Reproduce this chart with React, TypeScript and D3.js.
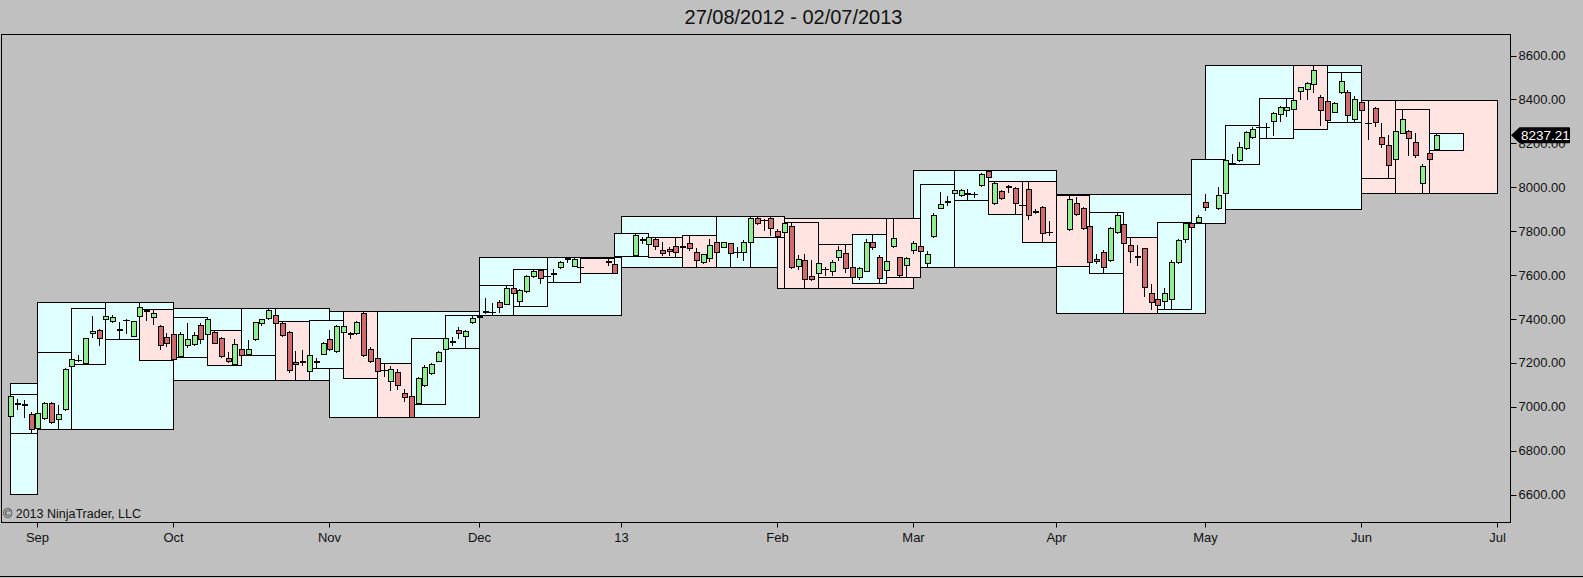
import React, { useEffect } from "react";
import * as d3 from "d3";

// day, open, high, low, close
type Row = [number, number, number, number, number];

const aug2012: Row[] = [
  [27, 6958, 7057, 6952, 7051], [28, 7016, 7034, 6988, 7014], [29, 7012, 7032, 6955, 7010],
  [30, 6967, 6978, 6879, 6898], [31, 6902, 6978, 6898, 6973],
];
const sep2012: Row[] = [
  [3, 6948, 7022, 6945, 7016], [4, 7016, 7021, 6928, 6933], [5, 6943, 7008, 6898, 6966],
  [6, 6989, 7175, 6985, 7172], [7, 7186, 7251, 7183, 7216], [10, 7213, 7236, 7210, 7212],
  [11, 7198, 7315, 7195, 7312], [12, 7335, 7414, 7320, 7347], [13, 7350, 7353, 7282, 7312],
  [14, 7398, 7449, 7395, 7413], [17, 7392, 7418, 7388, 7410], [18, 7354, 7388, 7307, 7352],
  [19, 7396, 7398, 7335, 7394], [20, 7324, 7392, 7323, 7391], [21, 7414, 7479, 7411, 7453],
  [24, 7440, 7444, 7395, 7438], [25, 7408, 7444, 7377, 7426], [26, 7368, 7373, 7262, 7282],
  [27, 7320, 7335, 7277, 7292], [28, 7332, 7335, 7213, 7216],
];
const oct2012: Row[] = [
  [1, 7231, 7342, 7225, 7332], [2, 7282, 7380, 7274, 7307], [3, 7286, 7342, 7282, 7327],
  [4, 7373, 7380, 7289, 7307], [5, 7332, 7411, 7327, 7398], [8, 7342, 7350, 7289, 7292],
  [9, 7312, 7320, 7228, 7231], [10, 7224, 7251, 7206, 7209], [11, 7195, 7307, 7190, 7285],
  [12, 7262, 7304, 7231, 7236], [15, 7241, 7304, 7236, 7262], [16, 7307, 7388, 7304, 7385],
  [17, 7380, 7401, 7375, 7400], [18, 7403, 7449, 7398, 7441], [19, 7418, 7429, 7377, 7380],
  [22, 7380, 7391, 7323, 7327], [23, 7342, 7347, 7160, 7168], [24, 7206, 7255, 7122, 7196],
  [25, 7208, 7259, 7190, 7206], [26, 7163, 7236, 7160, 7236], [29, 7207, 7221, 7175, 7205],
  [30, 7241, 7297, 7240, 7289], [31, 7307, 7350, 7259, 7262],
];
const nov2012: Row[] = [
  [1, 7256, 7373, 7251, 7368], [2, 7340, 7396, 7322, 7366], [5, 7336, 7342, 7315, 7334],
  [6, 7335, 7392, 7330, 7385], [7, 7429, 7436, 7233, 7236], [8, 7262, 7274, 7206, 7209],
  [9, 7221, 7228, 7130, 7165], [12, 7168, 7200, 7140, 7166], [13, 7119, 7186, 7077, 7172],
  [14, 7160, 7172, 7080, 7100], [15, 7065, 7080, 7028, 7046], [16, 7049, 7049, 6952, 6953],
  [19, 7016, 7134, 7013, 7130], [20, 7100, 7191, 7095, 7180], [21, 7153, 7201, 7150, 7195],
  [22, 7210, 7254, 7207, 7251], [23, 7262, 7312, 7228, 7312], [26, 7298, 7320, 7282, 7296],
  [27, 7350, 7362, 7312, 7335], [28, 7323, 7350, 7266, 7347], [29, 7385, 7414, 7383, 7403],
  [30, 7412, 7418, 7402, 7410],
];
const dec2012: Row[] = [
  [3, 7435, 7494, 7426, 7432], [4, 7434, 7471, 7418, 7432], [5, 7479, 7487, 7433, 7456],
  [6, 7468, 7555, 7467, 7540], [7, 7540, 7550, 7471, 7520], [10, 7484, 7535, 7459, 7532],
  [11, 7529, 7600, 7525, 7596], [12, 7596, 7623, 7593, 7619], [13, 7623, 7626, 7566, 7585],
  [14, 7596, 7608, 7570, 7594], [17, 7608, 7626, 7570, 7606], [18, 7638, 7664, 7631, 7658],
  [19, 7677, 7684, 7661, 7675], [20, 7643, 7676, 7641, 7673], [21, 7639, 7645, 7634, 7637],
  [27, 7662, 7672, 7646, 7660], [28, 7651, 7676, 7608, 7611],
];
const jan2013: Row[] = [
  [2, 7692, 7790, 7689, 7783], [3, 7763, 7775, 7745, 7762], [4, 7742, 7778, 7737, 7775],
  [7, 7763, 7767, 7717, 7733], [8, 7714, 7752, 7692, 7699], [9, 7718, 7730, 7692, 7708],
  [10, 7733, 7775, 7684, 7707], [11, 7732, 7767, 7707, 7728], [14, 7745, 7783, 7714, 7722],
  [15, 7707, 7722, 7638, 7669], [16, 7661, 7696, 7654, 7694], [17, 7676, 7763, 7666, 7737],
  [18, 7752, 7772, 7638, 7704], [21, 7729, 7752, 7727, 7750], [22, 7745, 7748, 7638, 7699],
  [23, 7707, 7730, 7684, 7705], [24, 7707, 7760, 7669, 7752], [25, 7752, 7869, 7745, 7859],
  [28, 7858, 7869, 7833, 7836], [29, 7852, 7856, 7806, 7850], [30, 7858, 7863, 7783, 7813],
  [31, 7802, 7808, 7775, 7778],
];
const feb2013: Row[] = [
  [1, 7795, 7851, 7790, 7836], [4, 7823, 7843, 7631, 7638], [5, 7641, 7692, 7626, 7672],
  [6, 7669, 7695, 7543, 7581], [7, 7596, 7669, 7578, 7581], [8, 7608, 7691, 7600, 7654],
  [11, 7630, 7638, 7600, 7628], [12, 7620, 7669, 7600, 7661], [13, 7684, 7732, 7669, 7714],
  [14, 7699, 7740, 7616, 7631], [15, 7635, 7638, 7590, 7593], [18, 7593, 7638, 7581, 7631],
  [19, 7619, 7763, 7619, 7752], [20, 7752, 7787, 7717, 7729], [21, 7684, 7692, 7562, 7585],
  [22, 7623, 7669, 7616, 7664], [25, 7733, 7858, 7729, 7770], [26, 7684, 7684, 7593, 7601],
  [27, 7646, 7684, 7593, 7679], [28, 7714, 7755, 7699, 7748],
];
const mar2013: Row[] = [
  [1, 7734, 7737, 7702, 7710], [4, 7657, 7711, 7638, 7696], [5, 7778, 7884, 7775, 7874],
  [6, 7907, 7977, 7904, 7924], [7, 7937, 7960, 7919, 7935], [8, 7972, 8013, 7969, 7987],
  [11, 7965, 7992, 7960, 7987], [12, 7972, 7990, 7940, 7970], [13, 7970, 7980, 7957, 7968],
  [14, 8010, 8063, 8006, 8060], [15, 8074, 8079, 8041, 8045], [18, 7930, 8030, 7924, 8021],
  [19, 7983, 7987, 7946, 7950], [20, 8004, 8010, 7980, 8002], [21, 7995, 8000, 7880, 7930],
  [22, 7920, 8030, 7912, 7918], [25, 7990, 8030, 7854, 7874], [26, 7890, 7900, 7881, 7889],
  [27, 7912, 7915, 7752, 7790], [28, 7797, 7848, 7783, 7795],
];
const apr2013: Row[] = [
  [2, 7808, 7966, 7805, 7945], [3, 7930, 7954, 7874, 7878], [4, 7904, 7912, 7808, 7813],
  [5, 7824, 7828, 7640, 7661], [8, 7672, 7696, 7654, 7664], [9, 7707, 7714, 7608, 7635],
  [10, 7669, 7821, 7666, 7813], [11, 7798, 7886, 7790, 7874], [12, 7833, 7836, 7742, 7745],
  [15, 7737, 7772, 7661, 7711], [16, 7685, 7737, 7646, 7684], [17, 7722, 7722, 7505, 7547],
  [18, 7520, 7559, 7444, 7479], [19, 7490, 7494, 7426, 7464], [22, 7482, 7540, 7444, 7517],
  [23, 7490, 7669, 7444, 7661], [24, 7661, 7763, 7657, 7760], [25, 7763, 7843, 7752, 7836],
  [26, 7836, 7839, 7790, 7820], [29, 7843, 7874, 7836, 7866], [30, 7934, 7968, 7896, 7912],
];
const may2013: Row[] = [
  [2, 7904, 8003, 7901, 7965], [3, 7972, 8129, 7968, 8124], [6, 8110, 8150, 8108, 8109],
  [7, 8124, 8205, 8120, 8182], [8, 8177, 8256, 8174, 8253], [9, 8230, 8276, 8226, 8265],
  [10, 8276, 8282, 8270, 8275], [13, 8276, 8291, 8223, 8274], [14, 8303, 8341, 8238, 8337],
  [15, 8332, 8372, 8303, 8367], [16, 8352, 8402, 8326, 8367], [17, 8356, 8405, 8352, 8397],
  [20, 8438, 8458, 8402, 8455], [21, 8447, 8481, 8402, 8473], [22, 8469, 8557, 8435, 8534],
  [23, 8413, 8420, 8283, 8352], [24, 8393, 8397, 8265, 8306], [27, 8344, 8390, 8341, 8382],
  [28, 8432, 8526, 8428, 8484], [29, 8435, 8443, 8299, 8329], [30, 8309, 8416, 8299, 8400],
  [31, 8390, 8397, 8349, 8352],
];
const jun2013: Row[] = [
  [3, 8293, 8397, 8218, 8291], [4, 8359, 8364, 8279, 8299], [5, 8227, 8291, 8185, 8197],
  [6, 8192, 8238, 8040, 8101], [7, 8127, 8355, 8124, 8258], [10, 8249, 8355, 8246, 8309],
  [11, 8258, 8261, 8147, 8223], [12, 8208, 8245, 8139, 8147], [13, 8021, 8106, 7972, 8097],
  [14, 8157, 8177, 8124, 8127], [17, 8173, 8249, 8170, 8237.21],
];

// whole-month open, high, low, close of August 2012 (only its last week is on screen)
const augustRange = [6772, 7107, 6601, 6971];

const monthData: [number, number, Row[]][] = [
  [2012, 8, aug2012], [2012, 9, sep2012], [2012, 10, oct2012], [2012, 11, nov2012],
  [2012, 12, dec2012], [2013, 1, jan2013], [2013, 2, feb2013], [2013, 3, mar2013],
  [2013, 4, apr2013], [2013, 5, may2013], [2013, 6, jun2013],
];

const tickMonths: [number, number][] = [
  [2012, 9], [2012, 10], [2012, 11], [2012, 12], [2013, 1], [2013, 2],
  [2013, 3], [2013, 4], [2013, 5], [2013, 6], [2013, 7],
];
const tickLabels = ["Sep", "Oct", "Nov", "Dec", "13", "Feb", "Mar", "Apr", "May", "Jun", "Jul"];
const priceTicks = [6600, 6800, 7000, 7200, 7400, 7600, 7800, 8000, 8200, 8400, 8600];

const W = 1583;
const H = 578;
const FONT = "Arial, 'Liberation Sans', sans-serif";
const UP = "#90EE90";
const DOWN = "#D06B6B";
const BOX_UP = "#E0FFFF";
const BOX_DOWN = "#FFE4E1";

const origin = Date.UTC(2012, 7, 27);
// index on a Monday..Friday grid starting at 27 Aug 2012
function wd(y: number, m: number, d: number) {
  const days = Math.round((Date.UTC(y, m - 1, d) - origin) / 864e5);
  return Math.floor(days / 7) * 5 + (days % 7);
}
function isWeekday(y: number, m: number, d: number) {
  const g = new Date(Date.UTC(y, m - 1, d)).getUTCDay();
  return g !== 0 && g !== 6;
}
function firstWd(y: number, m: number) {
  let d = 1;
  while (!isWeekday(y, m, d)) d++;
  return wd(y, m, d);
}
function lastWd(y: number, m: number) {
  let d = new Date(Date.UTC(y, m, 0)).getUTCDate();
  while (!isWeekday(y, m, d)) d--;
  return wd(y, m, d);
}

const x = d3.scaleLinear().domain([0, 220]).range([10.35, 10.35 + 220 * 6.787]);
const yS = d3.scaleLinear().domain([6600, 8600]).range([494.7, 55.5]);

const plot = { left: 1, top: 34, right: 1510.5, bottom: 522.5 };

type Candle = { i: number; o: number; h: number; l: number; c: number };

export default function App() {
  useEffect(() => {
    document.body.style.margin = "0";
    document.body.style.background = "#C0C0C0";
  }, []);

  const candles: Candle[] = monthData.flatMap(([yy, mm, rows]) =>
    rows.map(([d, o, h, l, c]) => ({ i: wd(yy, mm, d), o, h, l, c }))
  );

  const monthBoxes = monthData.map(([yy, mm, rows], k) => {
    let o = rows[0][1];
    let c = rows[rows.length - 1][4];
    let hi = d3.max(rows, (r) => r[2])!;
    let lo = d3.min(rows, (r) => r[3])!;
    if (k === 0) {
      [o, hi, lo, c] = augustRange;
    }
    const left = Math.max(x(firstWd(yy, mm) - 1), x(0));
    const right = x(lastWd(yy, mm));
    return { key: `${yy}-${mm}`, left, right, hi, lo, up: c >= o };
  });

  const weekBoxes = d3.groups(candles, (d) => Math.floor(d.i / 5)).map(([w, list]) => {
    const o = list[0].o;
    const c = list[list.length - 1].c;
    return {
      key: w,
      left: Math.max(x(w * 5 - 1), x(0)),
      right: x(w * 5 + 4),
      hi: d3.max(list, (d) => d.h)!,
      lo: d3.min(list, (d) => d.l)!,
      up: c >= o,
    };
  });

  const last = candles[candles.length - 1];
  const yLast = yS(last.c);

  const box = (b: { key: any; left: number; right: number; hi: number; lo: number; up: boolean }) => (
    <rect
      key={b.key}
      x={Math.round(b.left) + 0.5}
      y={Math.round(yS(b.hi)) + 0.5}
      width={Math.round(b.right) - Math.round(b.left)}
      height={Math.round(yS(b.lo)) - Math.round(yS(b.hi))}
      fill={b.up ? BOX_UP : BOX_DOWN}
      stroke="#000"
      strokeWidth={1}
    />
  );

  return (
    <svg width={W} height={H} style={{ display: "block", background: "#C0C0C0" }} fontFamily={FONT}>
      <text x={793.5} y={23.5} textAnchor="middle" fontSize={20} fill="#111">
        27/08/2012 - 02/07/2013
      </text>

      <defs>
        <clipPath id="plot-clip">
          <rect x={plot.left} y={plot.top} width={plot.right - plot.left} height={plot.bottom - plot.top} />
        </clipPath>
      </defs>

      <g clipPath="url(#plot-clip)" shapeRendering="crispEdges">
        {monthBoxes.map(box)}
        {weekBoxes.map(box)}
        {candles.map((d) => {
          const cx = Math.round(x(d.i));
          const yo = yS(d.o);
          const yc = yS(d.c);
          const top = Math.round(Math.min(yo, yc));
          const bot = Math.round(Math.max(yo, yc));
          return (
            <g key={d.i}>
              <line x1={cx + 0.5} x2={cx + 0.5} y1={Math.round(yS(d.h))} y2={Math.round(yS(d.l)) + 1} stroke="#000" />
              {bot - top < 1 ? (
                <line x1={cx - 3} x2={cx + 4} y1={top + 0.5} y2={top + 0.5} stroke="#000" />
              ) : (
                <rect
                  x={cx - 2 + 0.5}
                  y={top + 0.5}
                  width={5}
                  height={bot - top}
                  fill={d.c >= d.o ? UP : DOWN}
                  stroke="#000"
                />
              )}
            </g>
          );
        })}
      </g>

      <text x={3} y={518} fontSize={12.5} fill="#111">
        © 2013 NinjaTrader, LLC
      </text>

      <rect
        x={plot.left}
        y={plot.top}
        width={plot.right - plot.left}
        height={plot.bottom - plot.top}
        fill="none"
        stroke="#000"
        shapeRendering="crispEdges"
      />

      {priceTicks.map((v) => (
        <g key={v}>
          <line x1={plot.right} x2={plot.right + 6} y1={Math.round(yS(v)) + 0.5} y2={Math.round(yS(v)) + 0.5} stroke="#000" />
          <text x={plot.right + 8} y={yS(v)} dy="0.35em" fontSize={13} fill="#111">
            {v.toFixed(2)}
          </text>
        </g>
      ))}

      <g>
        <path
          d={`M${plot.right + 0.5},${yLast} L${plot.right + 9},${yLast - 8} L${W - 14},${yLast - 8} Q${W - 13},${yLast - 8} ${W - 13},${yLast - 7} L${W - 13},${yLast + 7} Q${W - 13},${yLast + 8} ${W - 14},${yLast + 8} L${plot.right + 9},${yLast + 8} Z`}
          fill="#000"
        />
        <text x={plot.right + 10.5} y={yLast} dy="0.36em" fontSize={13.5} fill="#fff">
          {last.c.toFixed(2)}
        </text>
      </g>

      {tickMonths.map(([yy, mm], k) => {
        const tx = Math.round(x(firstWd(yy, mm) - 1)) + 0.5;
        return (
          <g key={k}>
            <line x1={tx} x2={tx} y1={plot.bottom} y2={plot.bottom + 5} stroke="#000" />
            <text x={tx} y={537} dy="0.35em" textAnchor="middle" fontSize={13} fill="#111">
              {tickLabels[k]}
            </text>
          </g>
        );
      })}

      <line x1={0} x2={W} y1={576.5} y2={576.5} stroke="#000" />
    </svg>
  );
}
